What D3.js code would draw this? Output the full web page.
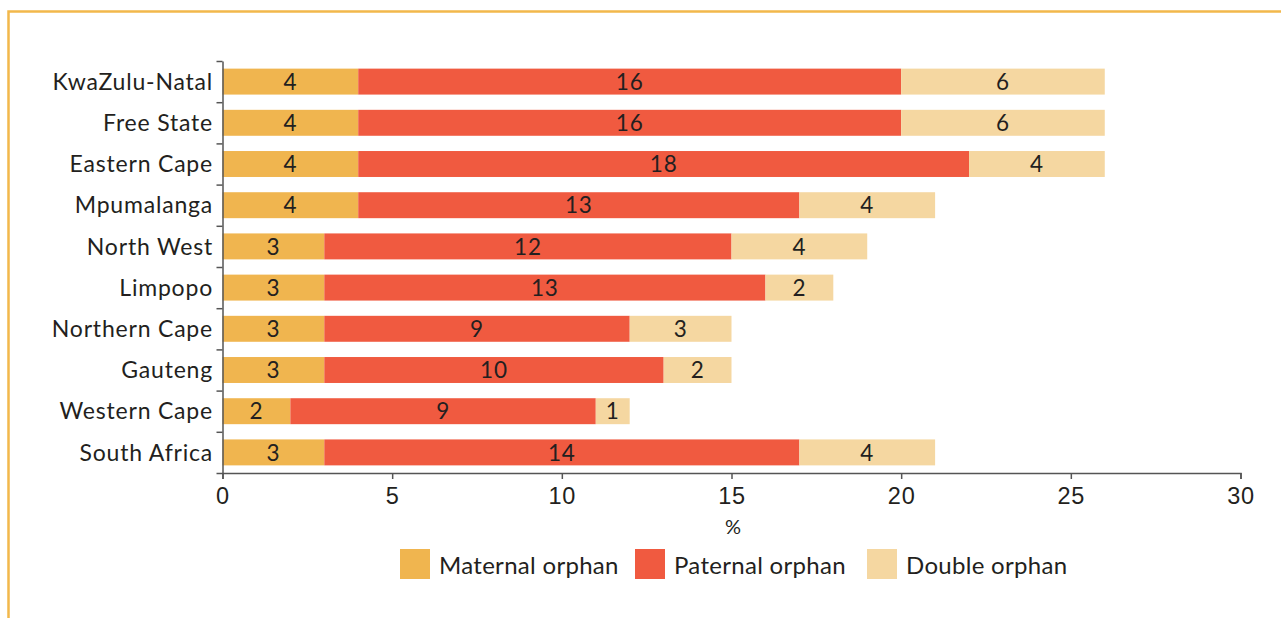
<!DOCTYPE html>
<html>
<head>
<meta charset="utf-8">
<script src="https://cdn.jsdelivr.net/npm/d3@7"></script>
<style>
  body { margin: 0; background: #fff; }
  svg { display: block; font-family: Lato, "Noto Sans", sans-serif; }
</style>
</head>
<body>
<svg id="chart" width="1281" height="618"></svg>
<script>
// provinces, top to bottom
var regions = ["KwaZulu-Natal", "Free State", "Eastern Cape", "Mpumalanga", "North West",
  "Limpopo", "Northern Cape", "Gauteng", "Western Cape", "South Africa"];
var maternal = [4, 4, 4, 4, 3, 3, 3, 3, 2, 3];
var paternal = [16, 16, 18, 13, 12, 13, 9, 10, 9, 14];
var double_ = [6, 6, 4, 4, 4, 2, 3, 2, 1, 4];
var seriesNames = ["Maternal orphan", "Paternal orphan", "Double orphan"];
var xTicks = [0, 5, 10, 15, 20, 25, 30];

var colors = ["#F0B54F", "#F05A40", "#F5D7A1"];
var TEXT = "#231F20";

var svg = d3.select("#chart");

// orange frame, top and left only
svg.append("path")
  .attr("d", "M8.5,618 V11.5 H1281")
  .attr("fill", "none")
  .attr("stroke", "#F2B84B")
  .attr("stroke-width", 2.5);

var rows = regions.map(function(r, i) {
  return { region: r, m: maternal[i], p: paternal[i], d: double_[i] };
});
var stack = d3.stack().keys(["m", "p", "d"])(rows);

var x = d3.scaleLinear().domain([0, 30]).range([222.5, 1240.5]);
var y = d3.scaleBand().domain(regions).range([61, 473]).paddingInner(0.37).paddingOuter(0.185);
var yEdge = d3.scaleLinear().domain([0, regions.length]).range([61, 473]);

// bars
var g = svg.append("g");
stack.forEach(function(layer, k) {
  g.append("g").attr("fill", colors[k])
    .selectAll("rect")
    .data(layer)
    .enter().append("rect")
    .attr("x", function(d) { return x(d[0]); })
    .attr("y", function(d) { return y(d.data.region); })
    .attr("width", function(d) { return x(d[1]) - x(d[0]); })
    .attr("height", y.bandwidth());

  g.append("g")
    .selectAll("text")
    .data(layer)
    .enter().append("text")
    .attr("x", function(d) { return (x(d[0]) + x(d[1])) / 2; })
    .attr("y", function(d) { return y(d.data.region) + y.bandwidth() / 2; })
    .attr("dy", "0.36em")
    .attr("text-anchor", "middle")
    .attr("font-size", 22.5)
    .attr("letter-spacing", 0.8)
    .attr("fill", TEXT)
    .text(function(d) { return d[1] - d[0]; });
});

// x axis
var xAxis = svg.append("g")
  .attr("transform", "translate(0,473)")
  .call(d3.axisBottom(x).tickValues(xTicks).tickSize(6).tickSizeOuter(6).tickPadding(8));
xAxis.selectAll("text").attr("font-size", 23.5).attr("letter-spacing", 0.8)
  .attr("fill", TEXT).style("font-family", "inherit");
xAxis.selectAll("line, path").attr("stroke", "#555").attr("stroke-width", 1.5);

// y axis with ticks between the bars
var yAxis = svg.append("g")
  .attr("transform", "translate(222.5,0)")
  .call(d3.axisLeft(yEdge).tickValues(d3.range(regions.length + 1)).tickFormat("").tickSize(6).tickSizeOuter(0));
yAxis.selectAll("line, path").attr("stroke", "#555").attr("stroke-width", 1.5);

svg.append("g")
  .selectAll("text")
  .data(regions)
  .enter().append("text")
  .attr("x", 213)
  .attr("y", function(d) { return y(d) + y.bandwidth() / 2; })
  .attr("dy", "0.36em")
  .attr("text-anchor", "end")
  .attr("font-size", 23)
  .attr("letter-spacing", 0.8)
  .attr("fill", TEXT)
  .text(function(d) { return d; });

svg.append("text")
  .attr("x", 733)
  .attr("y", 527)
  .attr("dy", "0.36em")
  .attr("text-anchor", "middle")
  .attr("font-size", 20)
  .attr("fill", TEXT)
  .text("%");

// legend
var legendX = [400, 635, 867];
var leg = svg.append("g").selectAll("g")
  .data(seriesNames)
  .enter().append("g")
  .attr("transform", function(d, i) { return "translate(" + legendX[i] + ",549)"; });
leg.append("rect")
  .attr("width", 30).attr("height", 30)
  .attr("fill", function(d, i) { return colors[i]; });
leg.append("text")
  .attr("x", 39).attr("y", 16)
  .attr("dy", "0.36em")
  .attr("font-size", 24)
  .attr("letter-spacing", 0.3)
  .attr("fill", TEXT)
  .text(function(d) { return d; });
</script>
</body>
</html>
